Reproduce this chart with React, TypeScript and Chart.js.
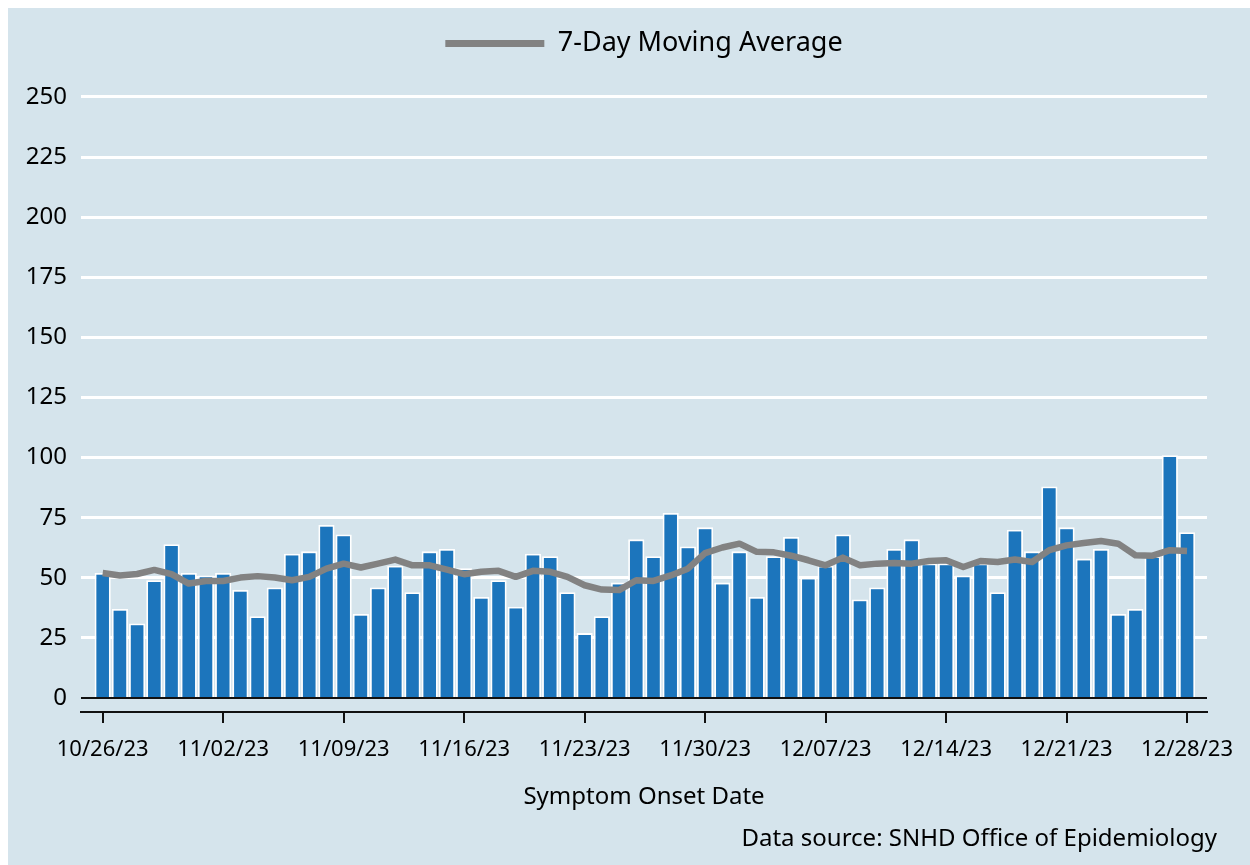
import { useEffect, useRef } from "react";
import { Chart, registerables } from "chart.js";

Chart.register(...registerables);

const categories = [
  "10/26/23", "10/27/23", "10/28/23", "10/29/23", "10/30/23", "10/31/23",
  "11/01/23", "11/02/23", "11/03/23", "11/04/23", "11/05/23", "11/06/23", "11/07/23", "11/08/23",
  "11/09/23", "11/10/23", "11/11/23", "11/12/23", "11/13/23", "11/14/23", "11/15/23",
  "11/16/23", "11/17/23", "11/18/23", "11/19/23", "11/20/23", "11/21/23", "11/22/23",
  "11/23/23", "11/24/23", "11/25/23", "11/26/23", "11/27/23", "11/28/23", "11/29/23",
  "11/30/23", "12/01/23", "12/02/23", "12/03/23", "12/04/23", "12/05/23", "12/06/23",
  "12/07/23", "12/08/23", "12/09/23", "12/10/23", "12/11/23", "12/12/23", "12/13/23",
  "12/14/23", "12/15/23", "12/16/23", "12/17/23", "12/18/23", "12/19/23", "12/20/23",
  "12/21/23", "12/22/23", "12/23/23", "12/24/23", "12/25/23", "12/26/23", "12/27/23",
  "12/28/23",
];

const dailyCases = [
  52, 37, 31, 49, 64, 52, 51, 52, 45, 34, 46, 60, 61, 72, 68, 35,
  46, 55, 44, 61, 62, 54, 42, 49, 38, 60, 59, 44, 27, 34, 48, 66,
  59, 77, 63, 71, 48, 61, 42, 59, 67, 50, 55, 68, 41, 46, 62, 66,
  56, 56, 51, 56, 44, 70, 61, 88, 71, 58, 62, 35, 37, 59, 101, 69,
];

const movingAverage = [
  52.0, 51.0, 51.6, 53.3, 51.5, 47.6, 48.7, 48.7, 50.1, 50.7, 50.1, 49.0, 50.4, 53.8, 55.9, 54.3,
  55.9, 57.6, 55.2, 55.2, 53.4, 51.5, 52.5, 52.9, 50.4, 52.9, 52.5, 50.4, 46.9, 45.1, 44.9, 49.0,
  48.7, 51.0, 53.8, 60.3, 62.6, 64.2, 60.8, 60.6, 59.2, 57.3, 55.2, 58.4, 55.2, 55.9, 56.2, 55.9,
  57.0, 57.3, 54.5, 57.0, 56.6, 57.6, 56.6, 61.5, 63.5, 64.5, 65.3, 64.2, 59.4, 59.2, 61.5, 61.2,
];

const yTickValues = [0, 25, 50, 75, 100, 125, 150, 175, 200, 225, 250];
const xTickIndices = [0, 7, 14, 21, 28, 35, 42, 49, 56, 63];

const legendLabel = "7-Day Moving Average";
const xAxisTitle = "Symptom Onset Date";
const sourceText = "Data source: SNHD Office of Epidemiology";

const BG = "#d5e4ec";
const BLUE = "#1c75bc";
const GRAY = "#828282";
const AXIS = "#111111";

Chart.defaults.font.family = "'Noto Sans'";

// Source note under the chart
const sourcePlugin = {
  id: "sourceNote",
  afterDraw(chart: any) {
    const { ctx } = chart;
    ctx.save();
    ctx.font = "24px 'Noto Sans'";
    ctx.fillStyle = "#000";
    ctx.textAlign = "right";
    ctx.textBaseline = "alphabetic";
    ctx.fillText(sourceText, 1209, 838);
    ctx.restore();
  },
};

export default function App() {
  const ref = useRef<HTMLCanvasElement>(null);

  useEffect(() => {
    if (!ref.current) return;
    const chart = new Chart(ref.current, {
      type: "bar",
      data: {
        datasets: [
          {
            type: "line",
            label: legendLabel,
            data: movingAverage.map((y, i) => ({ x: i, y })),
            borderColor: GRAY,
            backgroundColor: GRAY,
            borderWidth: 6.5,
            pointRadius: 0,
            tension: 0,
            borderJoinStyle: "round",
            order: 0,
          } as any,
          {
            type: "bar",
            label: "Cases",
            data: dailyCases.map((y, i) => ({ x: i, y })),
            backgroundColor: BLUE,
            borderColor: "#ffffff",
            borderWidth: { top: 1.8, left: 1.8, right: 1.8, bottom: 0 },
            borderSkipped: "start",
            barPercentage: 0.94,
            categoryPercentage: 1,
            order: 1,
          } as any,
        ],
      },
      options: {
        responsive: false,
        animation: false,
        layout: { padding: { top: 12, right: 35, bottom: 53.6, left: 0 } },
        plugins: {
          tooltip: { enabled: false },
          legend: {
            position: "top",
            fullSize: false,
            labels: {
              boxWidth: 99,
              boxHeight: 7,
              padding: 10,
              color: "#000",
              font: { family: "'Noto Sans'", size: 27 },
              generateLabels: (c: any) =>
                Chart.defaults.plugins.legend.labels
                  .generateLabels(c)
                  .filter((it: any) => it.datasetIndex === 0)
                  .map((it: any) => ({ ...it, lineWidth: 0, fillStyle: GRAY, strokeStyle: GRAY })),
            },
          },
        },
        scales: {
          x: {
            type: "linear",
            offset: false,
            bounds: "data",
            min: -1.26,
            max: 64.16,
            afterBuildTicks: (s: any) => {
              s.ticks = xTickIndices.map((v) => ({ value: v }));
            },
            afterFit: (s: any) => {
              s.height = 99.4;
              s.paddingLeft = 0;
              s.paddingRight = 0;
            },
            grid: {
              offset: false,
              drawOnChartArea: false,
              drawTicks: true,
              tickLength: 11,
              color: AXIS,
              lineWidth: 2,
            },
            border: { display: true, color: AXIS, width: 2 },
            ticks: {
              autoSkip: false,
              maxRotation: 0,
              minRotation: 0,
              padding: 13.8,
              color: "#000",
              font: { family: "'Noto Sans'", size: 22 },
              callback: (v: any) => categories[Number(v)] ?? "",
            },
            title: {
              display: true,
              text: xAxisTitle,
              color: "#000",
              font: { family: "'Noto Sans'", size: 24 },
              padding: 0,
            },
          },
          y: {
            type: "linear",
            min: -5.81,
            max: 262.46,
            afterBuildTicks: (s: any) => {
              s.ticks = yTickValues.map((v) => ({ value: v }));
            },
            afterFit: (s: any) => {
              s.width = 73;
            },
            grid: {
              drawTicks: false,
              color: (c: any) => (c.tick && c.tick.value === 0 ? AXIS : "#ffffff"),
              lineWidth: (c: any) => (c.tick && c.tick.value === 0 ? 2 : 3),
            },
            border: { display: false },
            ticks: {
              padding: 14,
              color: "#000",
              font: { family: "'Noto Sans'", size: 24 },
            },
          },
        },
      } as any,
      plugins: [sourcePlugin],
    });
    return () => chart.destroy();
  }, []);

  return (
    <>
      <div
        style={{ position: "fixed", left: 8, top: 8, right: 0, bottom: 0, background: BG }}
      />
      <canvas
        ref={ref}
        width={1234}
        height={857}
        style={{ position: "relative", display: "block" }}
      />
    </>
  );
}
